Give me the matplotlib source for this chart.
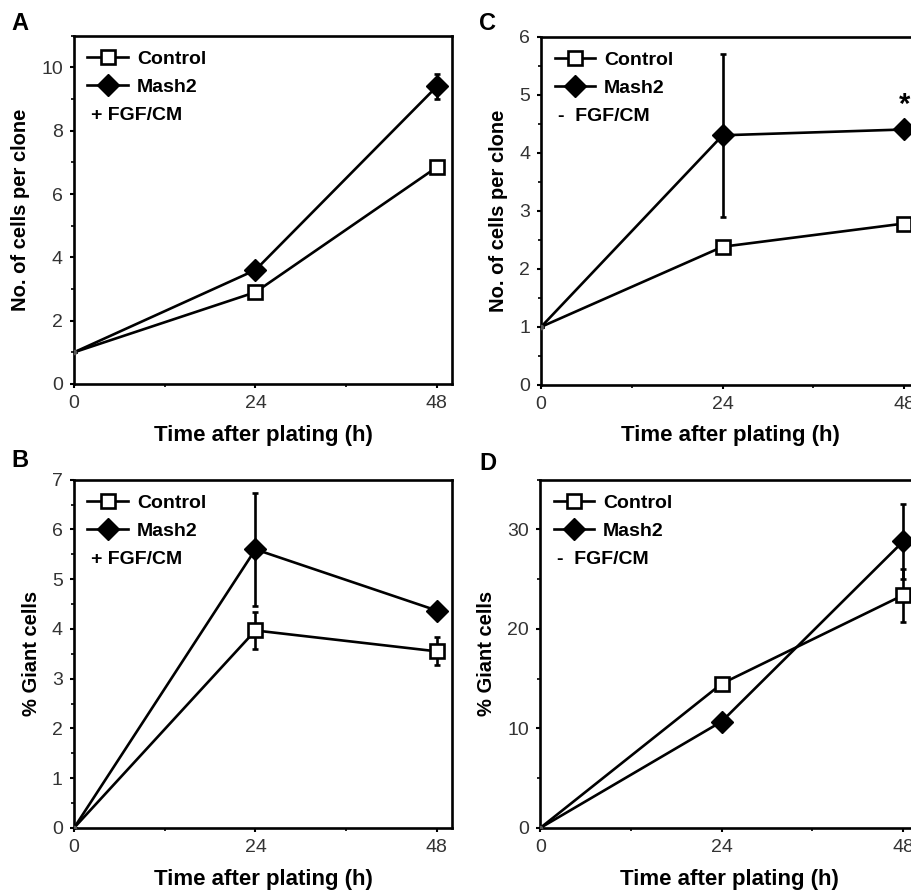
import matplotlib
matplotlib.use("Agg")
import matplotlib.pyplot as plt
from matplotlib.lines import Line2D
from matplotlib.ticker import MultipleLocator

plt.rcParams['font.family'] = ['Liberation Sans', 'DejaVu Sans']

# time points (h)
hours = [0, 24, 48]

# A: cells per clone, + FGF/CM
a_control = [1, 2.9, 6.85]
a_control_err = [0, 0, 0.2]
a_mash2 = [1, 3.6, 9.4]
a_mash2_err = [0, 0, 0.4]

# C: cells per clone, - FGF/CM
c_control = [1, 2.38, 2.78]
c_control_err = [0, 0, 0]
c_mash2 = [1, 4.3, 4.4]
c_mash2_err = [0, 1.4, 0]

# B: % giant cells, + FGF/CM
b_control = [0, 3.97, 3.55]
b_control_err = [0, 0.38, 0.28]
b_mash2 = [0, 5.6, 4.37]
b_mash2_err = [0, 1.13, 0]

# D: % giant cells, - FGF/CM
d_control = [0, 14.5, 23.4]
d_control_err = [0, 0, 2.65]
d_mash2 = [0, 10.7, 28.8]
d_mash2_err = [0, 0, 3.8]

fig = plt.figure(figsize=(9.11, 8.93), dpi=100)

W = 0.415
H = 0.390
panels = [
    ('A', [0.0812, 0.570, W, H], a_control, a_control_err, a_mash2, a_mash2_err,
     11, 2, 1, 'No. of cells per clone', '+ FGF/CM'),
    ('C', [0.594, 0.569, W, H], c_control, c_control_err, c_mash2, c_mash2_err,
     6, 1, 0.5, 'No. of cells per clone', '-  FGF/CM'),
    ('B', [0.0812, 0.0728, W, H], b_control, b_control_err, b_mash2, b_mash2_err,
     7, 1, 0.5, '% Giant cells', '+ FGF/CM'),
    ('D', [0.593, 0.0728, W, H], d_control, d_control_err, d_mash2, d_mash2_err,
     35, 10, 5, '% Giant cells', '-  FGF/CM'),
]

letter_pos = {'A': (11, 30), 'C': (479, 30), 'B': (11, 467), 'D': (479, 470)}

for name, rect, ctl, ctl_err, mash, mash_err, ymax, ymaj, ymin, ylab, cond in panels:
    ax = fig.add_axes(rect)
    ax.errorbar(hours, mash, yerr=mash_err, color='black', lw=1.9, marker='D',
                ms=11.5, mfc='black', mec='black', markevery=[1, 2],
                elinewidth=1.9, capsize=2.5, capthick=1.9, zorder=3)
    ax.errorbar(hours, ctl, yerr=ctl_err, color='black', lw=1.9, marker='s',
                ms=10.5, mfc='white', mec='black', mew=1.9, markevery=[1, 2],
                elinewidth=1.9, capsize=2.5, capthick=1.9, zorder=3)
    ax.plot(hours[0], ctl[0], 'o', ms=3, color='#555555', zorder=4)

    ax.set_xlim(0, 50)
    ax.set_ylim(0, ymax)
    ax.set_xticks([0, 24, 48])
    ax.xaxis.set_minor_locator(MultipleLocator(12))
    ax.yaxis.set_major_locator(MultipleLocator(ymaj))
    ax.yaxis.set_minor_locator(MultipleLocator(ymin))
    if name == 'D':
        ax.set_yticks([0, 10, 20, 30])
    for s in ax.spines.values():
        s.set_linewidth(1.9)
    ax.tick_params(which='major', direction='out', length=3, width=1.5,
                   labelsize=14, labelcolor='#333333', pad=5)
    ax.tick_params(which='minor', direction='out', length=2, width=1.2)
    ax.set_xlabel('Time after plating (h)', fontsize=16, fontweight='bold', labelpad=9)
    ax.set_ylabel(ylab, fontsize=14.5, fontweight='bold', labelpad=8)

    handles = [
        Line2D([], [], color='black', lw=1.9, marker='s', ms=10.5, mfc='white',
               mec='black', mew=1.9),
        Line2D([], [], color='black', lw=1.9, marker='D', ms=11.5, mfc='black',
               mec='black'),
    ]
    ax.legend(handles, ['Control', 'Mash2'], loc='upper left',
              bbox_to_anchor=(0.02, 0.975), frameon=False,
              prop={'size': 14, 'weight': 'bold'}, handlelength=2.1,
              handletextpad=0.45, labelspacing=0.55, borderaxespad=0,
              borderpad=0.3)
    ax.text(0.045, 0.77, cond, transform=ax.transAxes, fontsize=14,
            fontweight='bold', va='center', ha='left')

    if name == 'C':
        ax.text(48, 4.58, '*', fontsize=21, fontweight='bold', ha='center', va='bottom')

    lx, ly = letter_pos[name]
    fig.text(lx / 911, 1 - ly / 893, name, fontsize=17, fontweight='bold',
             ha='left', va='baseline')

fig.savefig('out.png', dpi=100)
